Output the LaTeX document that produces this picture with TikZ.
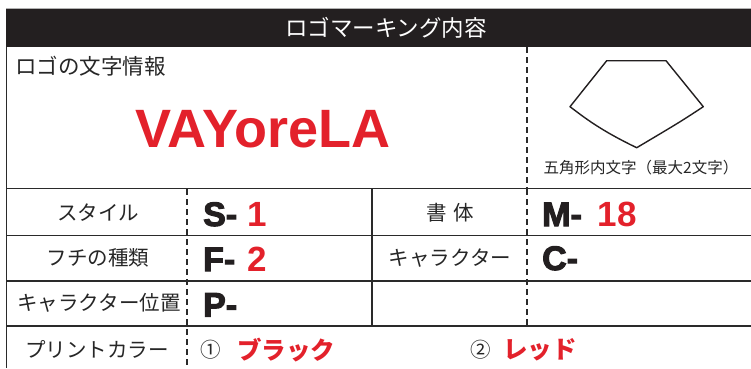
\documentclass[tikz,border=0pt]{standalone}
\usepackage{fontspec}
\setmainfont{Liberation Sans}
\newfontfamily\jp{Noto Sans CJK JP}
\newfontfamily\code[FakeBold=3]{Liberation Sans Bold}
\newfontfamily\codered{Liberation Sans Bold}
\definecolor{hdr}{HTML}{231F20}
\definecolor{rd}{HTML}{E3212B}
\definecolor{ln}{HTML}{2A2A2A}
\begin{document}
\begin{tikzpicture}[x=1pt,y=-1pt,
  rule/.style={draw=ln,line width=1.3pt},
  dashrule/.style={draw=ln,line width=1.2pt,dash pattern=on 6pt off 4pt},
  lbl/.style={font=\jp\fontsize{20.5}{20.5}\selectfont,text=black!85,inner sep=0pt},
  codetxt/.style={font=\code\fontsize{34}{34}\selectfont,anchor=base west,inner sep=0pt,text=hdr},
  num/.style={font=\codered\fontsize{35}{35}\selectfont,anchor=base west,inner sep=0pt,text=rd},
  colr/.style={font=\jp\bfseries\fontsize{24.5}{24.5}\selectfont,anchor=west,inner sep=0pt,text=rd}]
\useasboundingbox (0,0) rectangle (751,368);
\fill[white] (0,0) rectangle (751,368);
% header
\draw[black!30,line width=0.8pt] (6,8.5) -- (751,8.5);
\fill[hdr] (6,9) rectangle (751,47);
\node[font=\jp\fontsize{22.5}{22.5}\selectfont,text=white,inner sep=0pt] (title) at (386,28) {ロゴマーキング内容};
% frame lines
\draw[rule] (6.5,47) -- (6.5,368);
\draw[rule] (6,188.5) -- (751,188.5);
\draw[rule] (6,235.5) -- (751,235.5);
\draw[rule] (6,281) -- (751,281);
\draw[rule] (6,326) -- (751,326);
\draw[dashrule] (527,47) -- (527,188);
\draw[dashrule] (187,189) -- (187,368);
\draw[dashrule] (527,189) -- (527,326);
\draw[rule] (372,189) -- (372,326);
% logo area
\node[lbl,anchor=west,font=\jp\fontsize{21.5}{21.5}\selectfont] (info) at (15,66) {ロゴの文字情報};
\node[font=\codered\fontsize{54}{54}\selectfont,text=rd,inner sep=0pt] (logo) at (263,129) {VAYoreLA};
\draw[line width=1.4pt,line join=round,hdr]
  (606.7,60.7) -- (666,60.7) -- (703.3,106.7)
  .. controls (680,122) .. (636.7,147.7)
  .. controls (600,130) and (585,118) .. (570,106.7) -- cycle;
\node[font=\jp\fontsize{15.5}{15.5}\selectfont,text=black!85,inner sep=0pt] (penta) at (641,168) {五角形内文字（最大2文字）};
% rows
\node[lbl] (l1) at (98,213) {スタイル};
\node[lbl] (l2) at (98,258) {フチの種類};
\node[lbl] (l3) at (99,303) {キャラクター位置};
\node[lbl] (l4) at (97,349) {プリントカラー};
\node[lbl] (r1) at (450,213) {書\,\,体};
\node[lbl] (r2) at (450,258) {キャラクター};
\node[codetxt] (s) at (203,226) {S-};
\node[num] (s1) at (247,226) {1};
\node[codetxt] (f) at (203,271) {F-};
\node[num] (f2) at (247,271) {2};
\node[codetxt] (p) at (203,316.5) {P-};
\node[codetxt] (m) at (542,226) {M-};
\node[num] (m18) at (597.5,226) {18};
\node[codetxt] (c) at (542,270) {C-};
\node[lbl,anchor=west] (c1) at (200,350) {①};
\node[colr] (black) at (237,350) {ブラック};
\node[lbl,anchor=west] (c2) at (470,350) {②};
\node[colr] (red) at (503,350) {レッド};
\end{tikzpicture}
\end{document}
